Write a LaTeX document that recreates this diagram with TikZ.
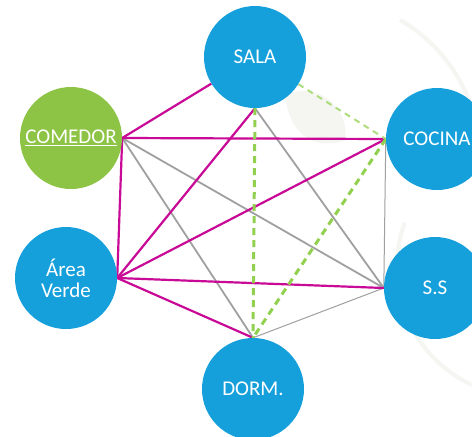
\documentclass[tikz,border=0pt]{standalone}
\usepackage{fontspec}
\setmainfont{Carlito}
\usetikzlibrary{backgrounds}
\definecolor{roomblue}{RGB}{22,160,219}
\definecolor{roomgreen}{RGB}{141,196,70}
\definecolor{linkpink}{RGB}{200,10,150}
\definecolor{linkgray}{RGB}{160,160,160}
\definecolor{linkgreen}{RGB}{146,208,80}
\definecolor{markgray}{RGB}{245,246,242}
\begin{document}
\begin{tikzpicture}[x=1pt,y=-1pt,
  room/.style={circle,fill=roomblue,minimum size=102pt,inner sep=0pt,
    text=white,font=\fontsize{21}{22}\selectfont,align=center},
  strong/.style={draw=linkpink,line width=2.2pt},
  weak/.style={draw=linkgray,line width=1.8pt},
  faint/.style={draw=linkgray,line width=1pt},
  optional/.style={draw=linkgreen,line width=3pt,dash pattern=on 7pt off 5pt},
  optlight/.style={draw=linkgreen!75,line width=2pt,dash pattern=on 6pt off 5pt}]
\useasboundingbox (0,0) rectangle (472,437);

% rooms
\node[room] (sala) at (255,57) {SALA};
\node[room,fill=roomgreen] (comedor) at (71,138) {\underline{COMEDOR}};
\node[room] (cocina) at (437,139) {COCINA};
\node[room] (area) at (66,278) {Área\\[-1pt]Verde};
\node[room] (ss) at (435,288) {S.S};
\node[room] (dorm) at (253,389) {DORM.};

\begin{scope}[on background layer]
  \fill[white] (0,0) rectangle (472,437);
  % soft background emblem
  \begin{scope}[line width=4pt,draw=markgray]
    \draw (472,385) arc[start angle=115,end angle=200,radius=130];
    \draw (400,20) arc[start angle=-60,end angle=10,radius=160];
  \end{scope}
  \fill[markgray] (285,95) .. controls (320,80) and (350,110) .. (345,140)
    .. controls (320,150) and (290,140) .. cycle;

  % links between rooms
  \path[faint] (cocina.west) -- (ss.west);
  \path[faint] (dorm.north) -- (ss.west);
  \path[weak] (comedor.east) -- (dorm.north);
  \path[weak] (comedor.east) -- (ss.west);
  \path[weak] (sala.south) -- (ss.west);
  \path[strong] (comedor.east) -- (sala);
  \path[strong] (comedor.east) -- (cocina.west);
  \path[strong] (comedor.east) -- (area.east);
  \path[strong] (area.east) -- (sala.south);
  \path[strong] (area.east) -- (cocina.west);
  \path[strong] (area.east) -- (ss.west);
  \path[strong] (area.east) -- (dorm.north);
  \path[optlight] (sala) -- (cocina.west);
  \path[optional] (sala.south) -- (dorm.north);
  \path[optional] (cocina.west) -- (dorm.north);
\end{scope}
\end{tikzpicture}
\end{document}
